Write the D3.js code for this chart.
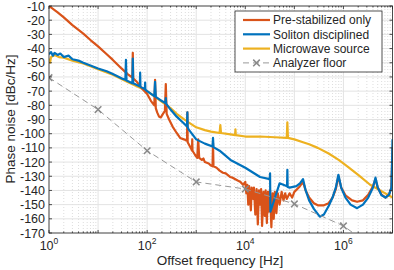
<!DOCTYPE html>
<html>
<head>
<meta charset="utf-8">
<script src="https://cdn.jsdelivr.net/npm/d3@7"></script>
<style>
  body { margin: 0; background: #fff; }
  svg { display: block; font-family: "Liberation Sans", Arial, Helvetica, sans-serif; }
</style>
</head>
<body>
<div id="container"></div>
<script>
// pre-stabilized only (orange)
const preFreq = [1, 1.5, 2, 3, 5, 7, 10, 15, 20, 30, 40, 50, 51, 52, 60, 70, 83, 100, 120, 140, 145, 150, 160, 175, 190, 210, 230, 240, 250, 280, 330, 400, 470, 560, 650, 660, 670, 800, 820, 830, 840, 950, 1050, 1100, 1150, 1300, 1400, 1500, 1800, 2000, 2150, 2200, 2250, 2600, 3000, 3500, 4000, 4900, 5500, 7000, 8000, 9000,
  10000, 10500, 11000, 11500, 12000, 13000, 13500, 14500, 15000, 16000, 17000, 18000, 19000, 20000, 21000, 22000, 23500, 25000, 26000, 27500, 29000, 30000, 32000, 34000, 36000, 38000, 40000, 43000, 46000, 50000, 55000, 60000, 65000, 70000, 80000, 90000,
  100000, 130000, 150000, 170000, 200000, 250000, 300000, 400000, 500000, 600000, 700000, 790000, 900000, 1100000, 1500000, 1900000, 2500000, 3200000, 4000000, 4500000, 5000000, 6000000, 7200000, 8500000, 9500000, 10000000];
const preDb = [-10, -14.5, -18, -23.5, -29.5, -34, -38.5, -44, -48, -54, -58, -60.5, -43, -61, -63, -66, -69, -72, -77, -80, -62, -82, -85, -88, -88.5, -86, -84, -65, -86, -90, -95, -99.5, -103, -104, -105, -85, -106, -111, -112, -104, -112, -115, -117, -104, -117, -118.5, -117.5, -120, -121, -122.5, -123, -106.5, -123, -124, -126, -127.5, -128, -130.5, -131, -133, -134, -136,
  -134, -142, -136, -150, -137, -154, -138, -146, -138, -157, -139, -164, -140, -150, -139, -165, -141, -158, -140, -163, -141, -155, -140, -166, -142, -160, -141, -156, -142, -150, -141, -147, -142, -146, -142, -145,
  -141, -137, -134, -140, -145, -149, -150.5, -150.5, -149, -145, -139, -130, -138, -143.5, -147, -148, -147, -143, -137, -132, -138, -143, -145, -143, -138, -110];

// soliton disciplined (blue)
const solFreq = [1, 1.1, 1.2, 1.3, 1.5, 1.7, 2, 2.5, 3, 4, 5, 7, 10, 15, 20, 30, 36, 37, 38, 50, 51, 52, 70, 71, 72, 73, 90, 91, 92, 100, 140, 145, 150, 200, 235, 240, 245, 300, 400, 550, 650, 660, 670, 700, 1000, 1500, 2150, 2200, 2250, 3000, 5000, 10000, 20000, 31500, 32000, 32500, 50000, 71000, 72000, 73000, 80000,
  110000, 130000, 150000, 170000, 200000, 250000, 330000, 400000, 500000, 600000, 700000, 790000, 900000, 1100000, 1400000, 1900000, 2500000, 3200000, 4000000, 4500000, 5000000, 6000000, 7200000, 8500000, 9500000, 9800000, 10000000];
const solDb = [-44, -42.5, -45, -43, -44.5, -43.5, -46, -45, -47.5, -48.5, -50, -52, -54, -56, -58, -61, -62, -48, -62.5, -64.5, -47, -64.5, -66.5, -66.5, -57, -67, -68.5, -64, -69, -70, -73.5, -63.5, -74, -77, -78.5, -75, -79, -83, -88, -92.5, -95, -85, -95.5, -97, -104, -107, -109, -103, -109.5, -112, -118.5, -124, -130.5, -132, -128, -155, -135, -137, -125.5, -137.5, -138,
  -137, -135, -132, -140, -147, -153, -158.5, -157, -151, -145, -138, -129, -138, -145, -150, -152.5, -150, -145, -138, -131, -138, -143.5, -145, -143, -138, -120, -104];

// microwave source (yellow)
const mwFreq = [1, 1.05, 1.1, 1.3, 1.6, 2, 3, 5, 7, 10, 20, 40, 100, 200, 300, 400, 550, 700, 1000, 1500, 2000, 3000, 3100, 3200, 5000, 6200, 6300, 6400, 10000, 20000, 40000, 70000, 72000, 74000,
  100000, 150000, 200000, 300000, 500000, 800000, 1200000, 2000000, 3500000, 5000000, 6300000, 8000000, 10000000];
const mwDb = [-47, -50, -46, -44.5, -46, -46.5, -48.5, -50.5, -52.5, -54.5, -58.5, -63.5, -70, -77.5, -82, -86, -89.5, -92, -95.5, -97.5, -98.5, -99.5, -94, -99.5, -100.5, -101, -97, -101, -102, -102, -102.5, -103, -92, -103,
  -104, -106, -107.5, -110, -114, -118.5, -123, -129, -136, -139, -141, -143, -145];

// analyzer floor (grey dashed, markers)
const floorFreq = [1, 10, 100, 1000, 10000, 100000, 1000000, 10000000];
const floorDb = [-60.5, -83, -112, -134, -139, -149.5, -165, -190];

const seriesNames = ["Pre-stabilized only", "Soliton disciplined", "Microwave source", "Analyzer floor"];
const yTicks = d3.range(-170, -9, 10);
const xDecades = [1, 10, 100, 1000, 10000, 100000, 1000000, 10000000];
const xLabelDecades = [0, 2, 4, 6];

function draw() {
    const width = 394;
    const height = 270;
    const left = 49, right = 392.5, top = 6, bottom = 233;
    const axisColor = "#262626";

    const svg = d3.select('#container')
        .append('svg')
        .attr('width', width)
        .attr('height', height)
        .attr('viewBox', `0 0 ${width} ${height}`);

    const x = d3.scaleLog().domain([1, 1e7]).range([left, right]);
    const y = d3.scaleLinear().domain([-170, -10]).range([bottom, top]);

    svg.append("defs").append("clipPath")
        .attr("id", "plotclip")
        .append("rect")
        .attr("x", left).attr("y", top)
        .attr("width", right - left).attr("height", bottom - top);

    // grid
    const minor = [];
    xDecades.slice(0, -1).forEach(d => {
        for (let k = 2; k <= 9; k++) minor.push(d * k);
    });
    const grid = svg.append("g");
    grid.selectAll(".minor").data(minor).enter().append("line")
        .attr("x1", d => x(d)).attr("x2", d => x(d))
        .attr("y1", top).attr("y2", bottom)
        .attr("stroke", "#cfcfcf")
        .attr("stroke-width", 0.7)
        .attr("stroke-dasharray", "1,2");
    grid.selectAll(".vmajor").data(xDecades).enter().append("line")
        .attr("x1", d => x(d)).attr("x2", d => x(d))
        .attr("y1", top).attr("y2", bottom)
        .attr("stroke", "#e3e3e3")
        .attr("stroke-width", 1);
    grid.selectAll(".hmajor").data(yTicks).enter().append("line")
        .attr("x1", left).attr("x2", right)
        .attr("y1", d => y(d)).attr("y2", d => y(d))
        .attr("stroke", "#e3e3e3")
        .attr("stroke-width", 1);

    // traces
    const line = d3.line()
        .x(d => x(d[0]))
        .y(d => y(d[1]));
    const plot = svg.append("g").attr("clip-path", "url(#plotclip)");

    plot.append("path")
        .datum(d3.zip(mwFreq, mwDb))
        .attr("d", line)
        .attr("fill", "none")
        .attr("stroke", "#EDB120")
        .attr("stroke-width", 2.2)
        .attr("stroke-linejoin", "round");
    plot.append("path")
        .datum(d3.zip(preFreq, preDb))
        .attr("d", line)
        .attr("fill", "none")
        .attr("stroke", "#D95319")
        .attr("stroke-width", 2.2)
        .attr("stroke-linejoin", "round");
    plot.append("path")
        .datum(d3.zip(solFreq, solDb))
        .attr("d", line)
        .attr("fill", "none")
        .attr("stroke", "#0072BD")
        .attr("stroke-width", 2.2)
        .attr("stroke-linejoin", "round");

    const floorData = d3.zip(floorFreq, floorDb);
    plot.append("path")
        .datum(floorData)
        .attr("d", line)
        .attr("fill", "none")
        .attr("stroke", "#999999")
        .attr("stroke-width", 1)
        .attr("stroke-dasharray", "6,4");
    const cross = d3.symbol().type(d3.symbolX).size(30);
    plot.selectAll(".mark").data(floorData).enter().append("path")
        .attr("d", cross)
        .attr("transform", d => `translate(${x(d[0])},${y(d[1])})`)
        .attr("fill", "none")
        .attr("stroke", "#8a8a8a")
        .attr("stroke-width", 1.5);

    // box and ticks
    svg.append("rect")
        .attr("x", left).attr("y", top)
        .attr("width", right - left).attr("height", bottom - top)
        .attr("fill", "none")
        .attr("stroke", axisColor)
        .attr("stroke-width", 0.8);

    const ticks = svg.append("g").attr("stroke", axisColor).attr("stroke-width", 0.8);
    yTicks.forEach(v => {
        ticks.append("line").attr("x1", left).attr("x2", left + 3).attr("y1", y(v)).attr("y2", y(v));
        ticks.append("line").attr("x1", right).attr("x2", right - 3).attr("y1", y(v)).attr("y2", y(v));
    });
    xDecades.forEach(v => {
        ticks.append("line").attr("x1", x(v)).attr("x2", x(v)).attr("y1", bottom).attr("y2", bottom - 3);
        ticks.append("line").attr("x1", x(v)).attr("x2", x(v)).attr("y1", top).attr("y2", top + 3);
    });
    minor.forEach(v => {
        ticks.append("line").attr("x1", x(v)).attr("x2", x(v)).attr("y1", bottom).attr("y2", bottom - 1.5);
        ticks.append("line").attr("x1", x(v)).attr("x2", x(v)).attr("y1", top).attr("y2", top + 1.5);
    });

    // tick labels
    svg.append("g").selectAll("text").data(yTicks).enter().append("text")
        .attr("x", left - 4)
        .attr("y", d => y(d))
        .attr("dy", "0.36em")
        .attr("text-anchor", "end")
        .attr("font-size", 12.5)
        .attr("fill", axisColor)
        .text(d => "-" + Math.abs(d));

    const xl = svg.append("g").selectAll("text").data(xLabelDecades).enter().append("text")
        .attr("x", d => x(Math.pow(10, d)))
        .attr("y", 250)
        .attr("text-anchor", "middle")
        .attr("font-size", 12.5)
        .attr("fill", axisColor);
    xl.append("tspan").text("10");
    xl.append("tspan")
        .attr("dy", -6)
        .attr("font-size", 8.5)
        .text(d => d);

    // axis titles
    svg.append("text")
        .attr("x", 220)
        .attr("y", 265)
        .attr("text-anchor", "middle")
        .attr("font-size", 13.5)
        .attr("fill", axisColor)
        .text("Offset frequency [Hz]");
    svg.append("text")
        .attr("transform", "translate(15,119) rotate(-90)")
        .attr("text-anchor", "middle")
        .attr("font-size", 13.5)
        .attr("fill", axisColor)
        .text("Phase noise [dBc/Hz]");

    // legend
    const legend = svg.append("g");
    legend.append("rect")
        .attr("x", 235).attr("y", 11)
        .attr("width", 147).attr("height", 61)
        .attr("fill", "#fff")
        .attr("stroke", axisColor)
        .attr("stroke-width", 0.8);
    const colors = ["#D95319", "#0072BD", "#EDB120", "#999999"];
    seriesNames.forEach((name, i) => {
        const ly = 20 + i * 14.3;
        legend.append("line")
            .attr("x1", 243).attr("x2", 270)
            .attr("y1", ly).attr("y2", ly)
            .attr("stroke", colors[i])
            .attr("stroke-width", i < 3 ? 2.2 : 1)
            .attr("stroke-dasharray", i < 3 ? null : "6,4");
        if (i === 3) {
            legend.append("path")
                .attr("d", cross)
                .attr("transform", `translate(256.5,${ly})`)
                .attr("fill", "none")
                .attr("stroke", "#8a8a8a")
                .attr("stroke-width", 1.5);
        }
        legend.append("text")
            .attr("x", 273)
            .attr("y", ly)
            .attr("dy", "0.36em")
            .attr("font-size", 12)
            .attr("fill", axisColor)
            .text(name);
    });
}
draw();
</script>
</body>
</html>
